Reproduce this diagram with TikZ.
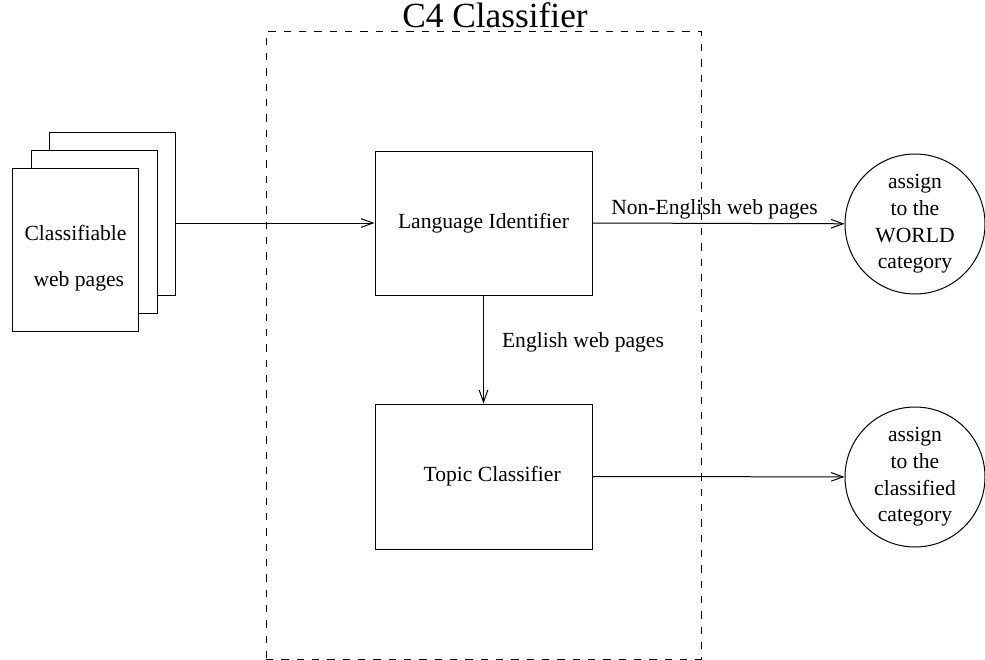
\documentclass[tikz,border=0pt]{standalone}
\usepackage{fontspec}
\setmainfont{Liberation Serif}
\usetikzlibrary{arrows.meta}

\tikzset{
  ln/.style={line width=0.75pt, black},
  box/.style={ln, draw, rectangle, fill=white, inner sep=0pt},
  sheet/.style={box, minimum width=94.5pt, minimum height=122.25pt},
  target/.style={ln, draw, circle, minimum size=105pt, inner sep=0pt,
    align=center, font=\fontsize{16.2}{20}\selectfont},
  arr/.style={ln, -{Straight Barb[length=9pt,width=6.5pt,line width=0.75pt]}},
  txt/.style={font=\fontsize{16.2}{19.5}\selectfont, inner sep=0pt},
  frame/.style={ln, draw, dash pattern=on 5.5pt off 6pt, rectangle,
    minimum width=326.25pt, minimum height=470.25pt, inner sep=0pt}
}

\begin{document}
\begin{tikzpicture}[x=0.75pt,y=-0.75pt]
  \useasboundingbox (0,0) rectangle (985,660);

  % dashed outline of the classifier
  \node[frame] (frame) at (483.5,345.5) {};
  \node[txt, font=\fontsize{26.5}{30}\selectfont, anchor=base] (title)
    at ([shift={(11.5,-4)}]frame.north) {C4 Classifier};

  % stack of input pages, drawn back to front
  \node[sheet] (back)  at (112,213.5) {};
  \node[sheet] (mid)   at (94,232) {};
  \node[sheet] (front) at (75.5,250) {};
  \node[txt, align=center, font=\fontsize{16.2}{34.5}\selectfont]
    (pagetext) at ([shift={(0,8)}]front.center) {Classifiable\\\hspace*{5pt}web pages};

  % the two classifier stages
  \node[box, minimum width=162.75pt, minimum height=108pt, txt] (lang)
    at (483.5,223) {Language Identifier};
  \node[box, minimum width=162.75pt, minimum height=108.75pt, txt] (topic)
    at (483.5,476.5) {\hspace*{13pt}Topic Classifier};

  % outcomes
  \node[target] (world) at (915,224) {assign\\to the\\WORLD\\category};
  \node[target] (cls)   at (915,477) {assign\\to the\\classified\\category};

  % connectors
  \draw[arr] (back.east |- lang.west) -- (lang.west);
  \draw[arr] (lang.east) -- (world)
    node[txt, pos=.484, anchor=base, yshift=6.75pt] (lblne) {Non-English web pages};
  \draw[arr] (lang.south) -- (topic.north)
    node[txt, pos=.486, anchor=base west, xshift=13.5pt] (lblen) {English web pages};
  \draw[arr] (topic.east) -- (cls);
\end{tikzpicture}
\end{document}
